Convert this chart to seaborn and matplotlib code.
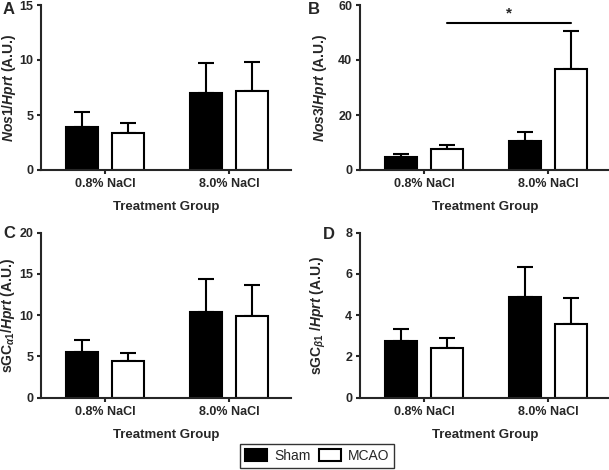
import numpy as np
import pandas as pd
import seaborn as sns
from matplotlib import pyplot as plt
from matplotlib.patches import Patch

groups = ['0.8% NaCl', '8.0% NaCl']
conditions = ['Sham', 'MCAO']

# panel A - Nos1
shamNos1 = [3.9, 7.0]
shamNos1Err = [1.4, 2.75]
mcaoNos1 = [3.4, 7.15]
mcaoNos1Err = [0.9, 2.65]

# panel B - Nos3
shamNos3 = [4.6, 10.5]
shamNos3Err = [1.1, 3.2]
mcaoNos3 = [7.6, 36.7]
mcaoNos3Err = [1.6, 13.8]

# panel C - sGC alpha1
shamA1 = [5.6, 10.35]
shamA1Err = [1.4, 4.0]
mcaoA1 = [4.45, 9.9]
mcaoA1Err = [0.95, 3.8]

# panel D - sGC beta1
shamB1 = [2.77, 4.87]
shamB1Err = [0.56, 1.46]
mcaoB1 = [2.43, 3.59]
mcaoB1Err = [0.45, 1.23]

sigLevel = 53.5
sigText = '*'

sns.set_style('ticks')
plt.rcParams['font.family'] = ['Liberation Sans', 'DejaVu Sans']
plt.rcParams['font.weight'] = 'bold'
plt.rcParams['mathtext.fontset'] = 'custom'
plt.rcParams['mathtext.it'] = 'Liberation Sans:italic:bold'
plt.rcParams['mathtext.bf'] = 'Liberation Sans:bold'
plt.rcParams['mathtext.rm'] = 'Liberation Sans:bold'

panels = [
    ('A', shamNos1, shamNos1Err, mcaoNos1, mcaoNos1Err, r'$\mathit{Nos1/Hprt}$ (A.U.)', [0, 5, 10, 15]),
    ('B', shamNos3, shamNos3Err, mcaoNos3, mcaoNos3Err, r'$\mathit{Nos3/Hprt}$ (A.U.)', [0, 20, 40, 60]),
    ('C', shamA1, shamA1Err, mcaoA1, mcaoA1Err, r'$\mathbf{sGC}_{\mathit{\alpha 1}}\mathit{/Hprt}$ (A.U.)', [0, 5, 10, 15, 20]),
    ('D', shamB1, shamB1Err, mcaoB1, mcaoB1Err, r'$\mathbf{sGC}_{\mathit{\beta 1}}\mathit{\ /Hprt}$ (A.U.)', [0, 2, 4, 6, 8]),
]

W, H = 609, 470
fig = plt.figure(figsize=(W / 100, H / 100), dpi=100)
# axes origin (left spine x, bottom spine y) in pixels
axPos = {
    'A': (41, 170), 'B': (360, 170),
    'C': (41, 397.7), 'D': (360, 397.7),
}
labelX = {'A': -0.092, 'B': -0.124, 'C': -0.096, 'D': -0.128}
letterPos = {'A': (3, 10), 'B': (308, 10), 'C': (3, 233), 'D': (323, 234)}
axW, axH = 250, 165

for letter, sham, shamErr, mcao, mcaoErr, ylabel, yticks in panels:
    left, bottom = axPos[letter]
    ax = fig.add_axes([left / W, (H - bottom) / H, axW / W, axH / H])
    df = pd.DataFrame({
        'Group': groups * 2,
        'Condition': ['Sham'] * 2 + ['MCAO'] * 2,
        'Value': sham + mcao,
    })
    sns.barplot(
        data=df, x='Group', y='Value', hue='Condition',
        order=groups, hue_order=conditions,
        palette={'Sham': 'black', 'MCAO': 'white'},
        edgecolor='black', linewidth=1.5,
        width=0.74, gap=0.3, errorbar=None, legend=False, ax=ax,
    )
    # error bars (upper only) on top of each bar
    for container, errs in zip(ax.containers, [shamErr, mcaoErr]):
        bars = sorted(container.patches, key=lambda p: p.get_x())
        xs = [b.get_x() + b.get_width() / 2 for b in bars]
        ys = [b.get_height() for b in bars]
        ax.errorbar(xs, ys, yerr=[np.zeros(len(errs)), errs], fmt='none',
                    ecolor='black', elinewidth=1.5, capsize=6, capthick=1.5, zorder=0.5)

    if letter == 'B':
        mcaoBars = sorted(ax.containers[1].patches, key=lambda p: p.get_x())
        x0 = mcaoBars[0].get_x() + mcaoBars[0].get_width() / 2
        x1 = mcaoBars[1].get_x() + mcaoBars[1].get_width() / 2
        ax.plot([x0, x1], [sigLevel, sigLevel], color='black', lw=1.5, clip_on=False)
        ax.text((x0 + x1) / 2, sigLevel + 1.0, sigText, ha='center', va='bottom',
                fontsize=11, fontweight='bold')

    ax.set_xlim(-0.52, 1.5)
    ax.set_ylim(0, yticks[-1])
    ax.set_yticks(yticks)
    ax.set_xlabel('Treatment Group', fontsize=9.5, fontweight='bold', labelpad=8)
    ax.set_ylabel(ylabel, fontsize=10, fontweight='bold')
    ax.yaxis.set_label_coords(labelX[letter], 0.5)
    ax.tick_params(axis='both', direction='out', length=3, width=1.5, labelsize=9)
    ax.tick_params(axis='x', pad=3)
    ax.tick_params(axis='y', pad=2.5)
    for lbl in ax.get_xticklabels() + ax.get_yticklabels():
        lbl.set_fontweight('bold')
    sns.despine(ax=ax)
    for sp in ['left', 'bottom']:
        ax.spines[sp].set_linewidth(1.5)

    lx, ly = letterPos[letter]
    fig.text(lx / W, (H - ly) / H, letter,
             fontsize=12, fontweight='bold', ha='left', va='center')

handles = [
    Patch(facecolor='black', edgecolor='black', linewidth=1.5, label='Sham'),
    Patch(facecolor='white', edgecolor='black', linewidth=1.5, label='MCAO'),
]
leg = fig.legend(handles=handles, loc='center', bbox_to_anchor=(317 / W, (H - 456) / H),
                 ncol=2, frameon=True, fancybox=False, edgecolor='black',
                 prop={'size': 10, 'weight': 'normal'}, handlelength=1.6, handleheight=0.9,
                 columnspacing=0.6, handletextpad=0.5, borderpad=0.35)
leg.get_frame().set_linewidth(1.0)

fig.savefig('out.png', dpi=100)
